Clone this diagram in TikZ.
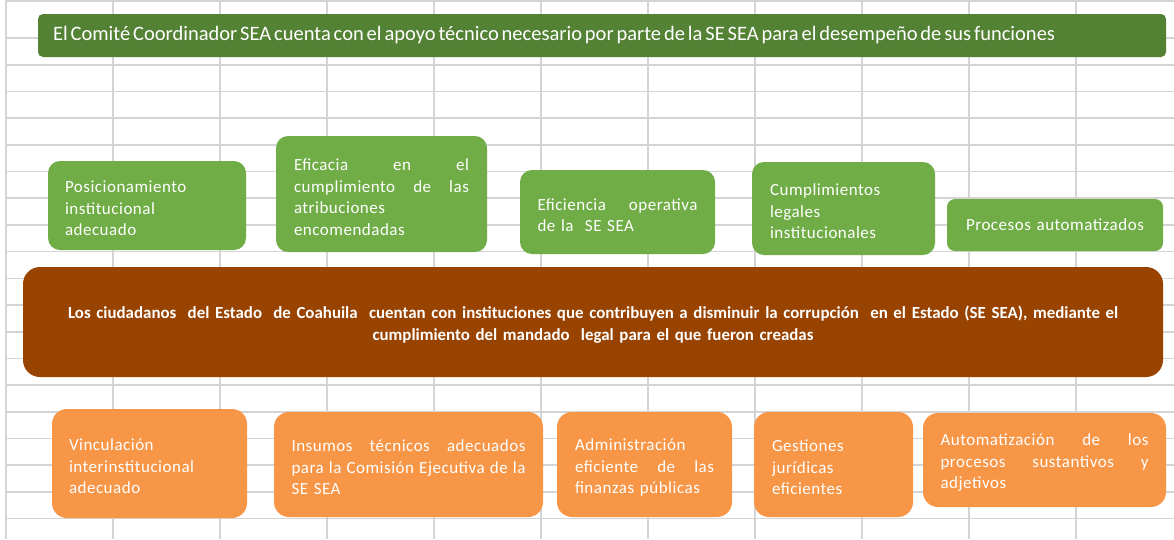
\documentclass[tikz,border=0pt]{standalone}
\usepackage{fontspec}
\setmainfont{Carlito}
\newfontfamily\boxfont[LetterSpace=3]{Carlito}
\newcommand\bannerspacing{\spaceskip=2.9pt plus 1pt minus 0.5pt\relax}
\setlength{\parindent}{0pt}
\definecolor{gridgray}{RGB}{212,212,212}
\definecolor{bannergreen}{RGB}{84,130,53}
\definecolor{boxgreen}{RGB}{112,173,71}
\definecolor{boxbrown}{RGB}{153,67,0}
\definecolor{boxorange}{RGB}{248,150,72}
\begin{document}
\begin{tikzpicture}[x=1pt,y=-1pt,
  gridline/.style={draw=gridgray,line width=1.6pt},
  lowtext/.style={execute at end node={\vspace{-6pt}}},
  box/.style={rounded corners=12pt, text=white, font=\boxfont\fontsize{17}{21.5}\selectfont, align=left, inner sep=0pt, lowtext},
  greenbox/.style={box, fill=boxgreen},
  orangebox/.style={box, fill=boxorange, rounded corners=15pt},
  bannerbox/.style={fill=bannergreen, rounded corners=5pt, text=white, font=\fontsize{20.5}{23}\selectfont, align=left, inner sep=0pt},
  brownbox/.style={fill=boxbrown, rounded corners=17pt, text=white, font=\bfseries\fontsize{16.9}{22}\selectfont, align=center, inner sep=0pt, lowtext}
 ]
\useasboundingbox (0,0) rectangle (1174,539);
\fill[white] (0,0) rectangle (1174,539);
\foreach \x in {0,...,10} \draw[gridline] ({6+107*\x},0) -- ({6+107*\x},539);
\draw[gridline] (6,1) -- (1174,1);
\foreach \k in {0,...,18} \draw[gridline] (6,{38+26.7*\k}) -- (1174,{38+26.7*\k});

\node[bannerbox, minimum width=1128pt, minimum height=43pt, text width=1098pt] (banner) at (602,35.5)
  {\bannerspacing El Comité Coordinador SEA cuenta con el apoyo técnico necesario por parte de la SE SEA para el desempeño de sus funciones};

\node[greenbox, minimum width=198pt, minimum height=89pt, text width=164pt] (g1) at (147,205.5)
  {Posicionamiento\\institucional\\adecuado};
\node[greenbox, minimum width=211pt, minimum height=116pt, text width=175pt] (g2) at (381.5,194)
  {Eficacia\hfill en\hfill el\\cumplimiento\hfill de\hfill las\\atribuciones\\encomendadas};
\node[greenbox, minimum width=195pt, minimum height=84pt, text width=160pt] (g3) at (617.5,212)
  {Eficiencia\hfill operativa\\de la\ \ SE SEA};
\node[greenbox, minimum width=183pt, minimum height=93pt, text width=147pt] (g4) at (843.5,208.5)
  {Cumplimientos\\legales\\institucionales};
\node[greenbox, minimum width=216pt, minimum height=52pt, text width=190pt, align=center, rounded corners=8pt] (g5) at (1055,225)
  {Procesos automatizados};

\node[brownbox, minimum width=1140pt, minimum height=110pt, text width=1130pt] (purpose) at (593,322)
  {Los ciudadanos\ \ del Estado\ \ de Coahuila\ \ cuentan con instituciones que contribuyen a disminuir la corrupción\ \ en el Estado (SE SEA), mediante el\\cumplimiento del mandado\ \ legal para el que fueron creadas};

\node[orangebox, minimum width=195pt, minimum height=109pt, text width=161pt] (o1) at (149.5,463.5)
  {Vinculación\\interinstitucional\\adecuado};
\node[orangebox, minimum width=269pt, minimum height=105pt, text width=234pt] (o2) at (408.5,464.5)
  {Insumos\hfill técnicos\hfill adecuados\\para\hfill la\hfill Comisión\hfill Ejecutiva\hfill de\hfill la\\SE SEA};
\node[orangebox, minimum width=175pt, minimum height=105pt, text width=139pt] (o3) at (644.5,464.5)
  {Administración\\eficiente\hfill de\hfill las\\finanzas públicas};
\node[orangebox, minimum width=159pt, minimum height=105pt, text width=123pt] (o4) at (833.5,464.5)
  {Gestiones\\jurídicas\\eficientes};
\node[orangebox, minimum width=243pt, minimum height=94pt, text width=208pt] (o5) at (1044.5,460)
  {Automatización\hfill de\hfill los\\procesos\hfill sustantivos\hfill y\\adjetivos};
\end{tikzpicture}
\end{document}
